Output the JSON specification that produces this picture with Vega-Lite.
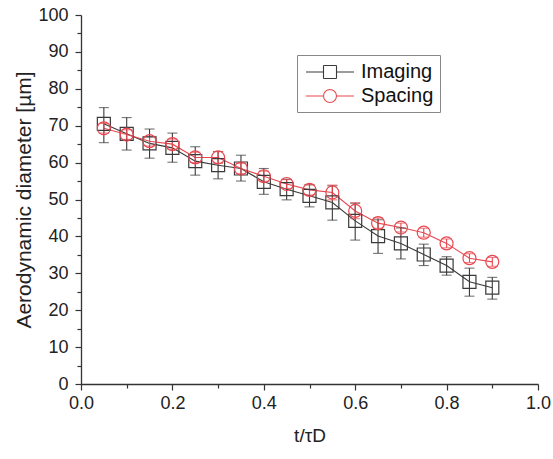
{
  "$schema": "https://vega.github.io/schema/vega-lite/v6.json",
  "width": 457,
  "height": 369,
  "autosize": {"type": "none"},
  "padding": {"left": 81, "top": 15, "right": 15, "bottom": 75},
  "background": "white",
  "config": {
    "view": {"stroke": null},
    "font": "Liberation Sans",
    "axis": {
      "domainColor": "#333",
      "domainWidth": 1.3,
      "tickColor": "#333",
      "tickWidth": 1.2,
      "labelColor": "#222",
      "titleColor": "#222",
      "labelFontSize": 18,
      "titleFontSize": 20,
      "titleFontWeight": "normal",
      "labelOverlap": false,
      "grid": false
    }
  },
  "data": {
    "values": [
      {"t": 0.05, "series": "Imaging", "v": 70.5, "lo": 65.4, "hi": 74.9},
      {"t": 0.10, "series": "Imaging", "v": 67.8, "lo": 63.4, "hi": 72.2},
      {"t": 0.15, "series": "Imaging", "v": 65.2, "lo": 61.2, "hi": 69.1},
      {"t": 0.20, "series": "Imaging", "v": 64.0, "lo": 60.1, "hi": 68.0},
      {"t": 0.25, "series": "Imaging", "v": 60.4, "lo": 56.6, "hi": 64.3},
      {"t": 0.30, "series": "Imaging", "v": 59.3, "lo": 55.6, "hi": 63.0},
      {"t": 0.35, "series": "Imaging", "v": 58.4, "lo": 55.0, "hi": 62.0},
      {"t": 0.40, "series": "Imaging", "v": 54.8, "lo": 51.4, "hi": 58.4},
      {"t": 0.45, "series": "Imaging", "v": 52.8, "lo": 49.9, "hi": 55.5},
      {"t": 0.50, "series": "Imaging", "v": 51.0, "lo": 48.0, "hi": 54.0},
      {"t": 0.55, "series": "Imaging", "v": 49.2, "lo": 44.4, "hi": 53.7},
      {"t": 0.60, "series": "Imaging", "v": 44.2, "lo": 39.0, "hi": 49.0},
      {"t": 0.65, "series": "Imaging", "v": 40.1, "lo": 35.4, "hi": 44.5},
      {"t": 0.70, "series": "Imaging", "v": 38.1, "lo": 33.9, "hi": 42.3},
      {"t": 0.75, "series": "Imaging", "v": 35.1, "lo": 32.1, "hi": 37.9},
      {"t": 0.80, "series": "Imaging", "v": 32.1, "lo": 29.5, "hi": 34.5},
      {"t": 0.85, "series": "Imaging", "v": 27.7, "lo": 23.8, "hi": 31.4},
      {"t": 0.90, "series": "Imaging", "v": 26.1, "lo": 23.0, "hi": 28.9},
      {"t": 0.05, "series": "Spacing", "v": 69.3, "lo": 68.0, "hi": 70.6},
      {"t": 0.10, "series": "Spacing", "v": 67.6, "lo": 66.3, "hi": 68.9},
      {"t": 0.15, "series": "Spacing", "v": 65.8, "lo": 64.5, "hi": 67.1},
      {"t": 0.20, "series": "Spacing", "v": 65.0, "lo": 63.6, "hi": 66.4},
      {"t": 0.25, "series": "Spacing", "v": 61.4, "lo": 60.0, "hi": 62.8},
      {"t": 0.30, "series": "Spacing", "v": 61.4, "lo": 59.8, "hi": 63.0},
      {"t": 0.35, "series": "Spacing", "v": 58.4, "lo": 57.0, "hi": 59.8},
      {"t": 0.40, "series": "Spacing", "v": 56.3, "lo": 54.9, "hi": 57.7},
      {"t": 0.45, "series": "Spacing", "v": 54.2, "lo": 53.0, "hi": 55.4},
      {"t": 0.50, "series": "Spacing", "v": 52.6, "lo": 51.2, "hi": 54.0},
      {"t": 0.55, "series": "Spacing", "v": 51.9, "lo": 49.9, "hi": 53.9},
      {"t": 0.60, "series": "Spacing", "v": 46.9, "lo": 44.8, "hi": 49.1},
      {"t": 0.65, "series": "Spacing", "v": 43.6, "lo": 42.2, "hi": 45.0},
      {"t": 0.70, "series": "Spacing", "v": 42.4, "lo": 41.2, "hi": 43.6},
      {"t": 0.75, "series": "Spacing", "v": 41.0, "lo": 39.8, "hi": 42.2},
      {"t": 0.80, "series": "Spacing", "v": 38.1, "lo": 36.9, "hi": 39.3},
      {"t": 0.85, "series": "Spacing", "v": 34.1, "lo": 32.9, "hi": 35.3},
      {"t": 0.90, "series": "Spacing", "v": 33.1, "lo": 31.9, "hi": 34.3}
    ]
  },
  "encoding": {
    "x": {
      "field": "t", "type": "quantitative",
      "scale": {"domain": [0, 1], "nice": false, "zero": false, "padding": 0},
      "axis": {
        "title": "t/τD",
        "titleFontSize": 19,
        "labelFlush": false,
        "values": [0, 0.1, 0.2, 0.3, 0.4, 0.5, 0.6, 0.7, 0.8, 0.9, 1.0],
        "labelExpr": "round(datum.value*10) % 2 == 0 ? format(datum.value, '.1f') : ''",
        "tickSize": {"condition": {"test": "round(datum.value*10) % 2 == 1", "value": 4}, "value": 6},
        "labelPadding": 4,
        "titlePadding": 14
      }
    },
    "y": {
      "field": "v", "type": "quantitative",
      "scale": {"domain": [0, 100], "nice": false, "padding": 0},
      "axis": {
        "title": "Aerodynamic diameter [µm]",
        "titleFontSize": 21,
        "values": [0, 5, 10, 15, 20, 25, 30, 35, 40, 45, 50, 55, 60, 65, 70, 75, 80, 85, 90, 95, 100],
        "labelExpr": "datum.value % 10 == 0 ? format(datum.value, 'd') : ''",
        "tickSize": {"condition": {"test": "datum.value % 10 == 5", "value": 4}, "value": 6},
        "labelOverlap": false,
        "labelPadding": 7,
        "titlePadding": 3
      }
    },
    "color": {
      "field": "series", "type": "nominal",
      "scale": {"domain": ["Imaging", "Spacing"], "range": ["#3a3a3a", "#e8474f"]},
      "legend": {
        "title": null,
        "orient": "none",
        "legendX": 216,
        "legendY": 40,
        "strokeColor": "#888",
        "padding": 6,
        "symbolSize": 400,
        "symbolOffset": 16,
        "symbolOpacity": 1,
        "symbolFillColor": "transparent",
        "labelOffset": 20,
        "labelFontSize": 20,
        "labelColor": "#111",
        "rowPadding": 3,
        "symbolStrokeWidth": 1.1
      }
    }
  },
  "layer": [
    {
      "mark": {"type": "point", "filled": false, "opacity": 0, "size": 10},
      "encoding": {
        "shape": {
          "field": "series", "type": "nominal",
          "scale": {
            "domain": ["Imaging", "Spacing"],
            "range": [
              "M-2.4,0H-0.65M0.65,0H2.4M-0.65,-0.65H0.65M0.65,-0.65V0.65M0.65,0.65H-0.65M-0.65,0.65V-0.65",
              "M-2.4,0H-0.65M0.65,0H2.4M0.65,0L0.6005,0.2488M0.6005,0.2488L0.4596,0.4596M0.4596,0.4596L0.2488,0.6005M0.2488,0.6005L0,0.65M0,0.65L-0.2488,0.6005M-0.2488,0.6005L-0.4596,0.4596M-0.4596,0.4596L-0.6005,0.2488M-0.6005,0.2488L-0.65,0M-0.65,0L-0.6005,-0.2488M-0.6005,-0.2488L-0.4596,-0.4596M-0.4596,-0.4596L-0.2488,-0.6005M-0.2488,-0.6005L0,-0.65M0,-0.65L0.2488,-0.6005M0.2488,-0.6005L0.4596,-0.4596M0.4596,-0.4596L0.6005,-0.2488M0.6005,-0.2488L0.65,0"
            ]
          }
        }
      }
    },
    {
      "mark": {"type": "line", "strokeWidth": 1.1},
      "encoding": {}
    },
    {
      "mark": {"type": "rule", "strokeWidth": 1.1},
      "encoding": {"y": {"field": "lo", "type": "quantitative"}, "y2": {"field": "hi"}}
    },
    {
      "mark": {"type": "tick", "orient": "horizontal", "size": 10, "thickness": 1.1},
      "encoding": {"y": {"field": "lo", "type": "quantitative"}}
    },
    {
      "mark": {"type": "tick", "orient": "horizontal", "size": 10, "thickness": 1.1},
      "encoding": {"y": {"field": "hi", "type": "quantitative"}}
    },
    {
      "transform": [{"filter": "datum.series == 'Imaging'"}],
      "mark": {"type": "point", "shape": "square", "filled": false, "size": 169, "strokeWidth": 1.2, "opacity": 1},
      "encoding": {}
    },
    {
      "transform": [{"filter": "datum.series == 'Spacing'"}],
      "mark": {"type": "point", "shape": "circle", "filled": false, "size": 169, "strokeWidth": 1.2, "opacity": 1},
      "encoding": {}
    }
  ]
}
